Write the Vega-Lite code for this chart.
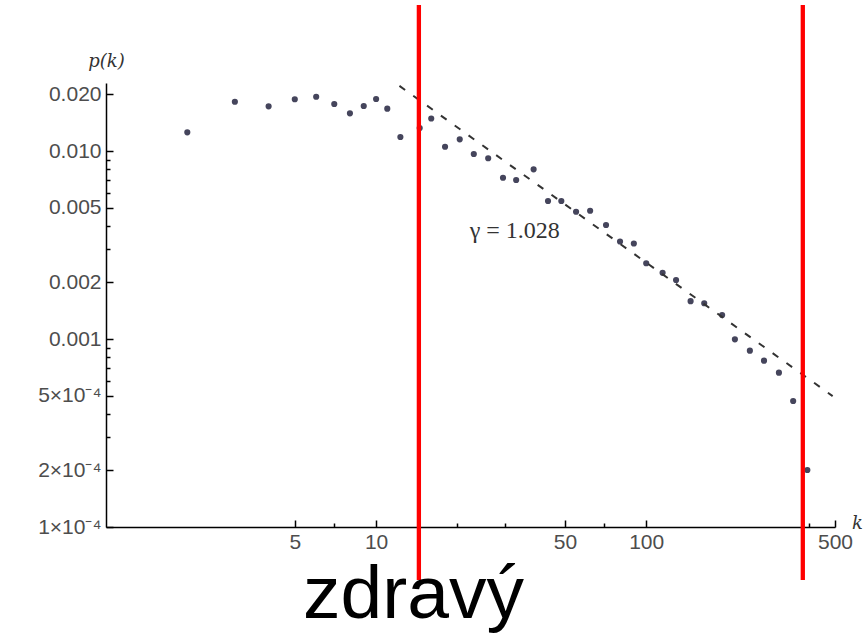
{
  "$schema": "https://vega.github.io/schema/vega-lite/v6.json",
  "width": 729,
  "height": 444,
  "autosize": {"type": "none"},
  "padding": {"left": 106, "top": 83, "right": 30, "bottom": 107},
  "background": "white",
  "config": {"view": {"stroke": null}},
  "title": {
    "text": "zdravý",
    "orient": "bottom",
    "anchor": "middle",
    "font": "Liberation Sans",
    "fontSize": 75,
    "fontWeight": "normal",
    "color": "black",
    "baseline": "alphabetic",
    "dx": -57,
    "offset": 36
  },
  "datasets": {
    "points": [
      {"k": 2, "p": 0.01257}, {"k": 3, "p": 0.01829}, {"k": 4, "p": 0.01729},
      {"k": 5, "p": 0.01884}, {"k": 6, "p": 0.01944}, {"k": 7, "p": 0.01778},
      {"k": 8, "p": 0.01587}, {"k": 9, "p": 0.01735}, {"k": 10, "p": 0.0189},
      {"k": 11, "p": 0.01679}, {"k": 12.3, "p": 0.01187}, {"k": 14.5, "p": 0.01325},
      {"k": 16, "p": 0.01489}, {"k": 18, "p": 0.01054}, {"k": 20.4, "p": 0.01154},
      {"k": 23, "p": 0.00964}, {"k": 26, "p": 0.00915}, {"k": 29.5, "p": 0.00721},
      {"k": 33, "p": 0.00701}, {"k": 38.3, "p": 0.00799}, {"k": 43.3, "p": 0.00542},
      {"k": 48.5, "p": 0.00542}, {"k": 55, "p": 0.00475}, {"k": 62, "p": 0.00481},
      {"k": 71, "p": 0.00404}, {"k": 80, "p": 0.0033}, {"k": 90, "p": 0.00322},
      {"k": 100, "p": 0.00253}, {"k": 115, "p": 0.00225}, {"k": 129, "p": 0.00206},
      {"k": 146, "p": 0.00159}, {"k": 164, "p": 0.00155}, {"k": 191, "p": 0.00134},
      {"k": 213, "p": 0.000996}, {"k": 242, "p": 0.000867}, {"k": 273, "p": 0.000767},
      {"k": 310, "p": 0.000662}, {"k": 350, "p": 0.000468}, {"k": 395, "p": 0.000201}
    ],
    "fit": [{"k": 12.2, "p": 0.0222}, {"k": 490, "p": 0.000497}],
    "cuts": [{"k": 14.4}, {"k": 380}],
    "note": [{"k": 32.6, "p": 0.00375, "label": "γ = 1.028"}]
  },
  "layer": [
    {
      "data": {"name": "points"},
      "mark": {"type": "circle", "size": 38, "color": "#45455c", "opacity": 1},
      "encoding": {
        "x": {
          "field": "k", "type": "quantitative",
          "scale": {"type": "log", "domain": [1, 500], "nice": false},
          "axis": {
            "title": "k",
            "titleFont": "DejaVu Serif", "titleFontStyle": "italic", "titleFontWeight": "normal",
            "titleFontSize": 18, "titleColor": "#333",
            "titleX": 751, "titleY": -4, "titleAlign": "center", "titleBaseline": "middle", "titleAngle": 0,
            "values": [5, 7, 10, 20, 30, 50, 70, 100, 400, 500],
            "labelExpr": "indexof([5,10,50,100,500], datum.value) >= 0 ? datum.value + '' : ''",
            "labelFont": "Liberation Sans", "labelFontSize": 21, "labelColor": "#4d4d4d",
            "labelPadding": 11, "labelOverlap": false, "labelFlush": false,
            "domainColor": "black", "domainWidth": 1.5,
            "tickColor": "black", "tickWidth": 1.5,
            "tickSize": {"condition": {"test": "indexof([5,10,50,100,500], datum.value) >= 0", "value": -7}, "value": -4},
            "grid": false
          }
        },
        "y": {
          "field": "p", "type": "quantitative",
          "scale": {"type": "log", "domain": [0.0001, 0.023], "nice": false},
          "axis": {
            "title": "p(k)",
            "titleFont": "DejaVu Serif", "titleFontStyle": "italic", "titleFontWeight": "normal",
            "titleFontSize": 18, "titleColor": "#333",
            "titleX": 0, "titleY": -22, "titleAlign": "center", "titleBaseline": "middle", "titleAngle": 0,
            "values": [0.0001, 0.0002, 0.0003, 0.0004, 0.0005, 0.0006, 0.0007, 0.0008, 0.0009, 0.001, 0.002, 0.003, 0.004, 0.005, 0.006, 0.007, 0.008, 0.009, 0.01, 0.02],
            "labelExpr": "datum.value == 0.02 ? '0.020' : datum.value == 0.01 ? '0.010' : datum.value == 0.005 ? '0.005' : datum.value == 0.002 ? '0.002' : datum.value == 0.001 ? '0.001' : datum.value == 0.0005 ? '5×10⁻⁴' : datum.value == 0.0002 ? '2×10⁻⁴' : datum.value == 0.0001 ? '1×10⁻⁴' : ''",
            "labelFont": "Liberation Sans", "labelFontSize": 21, "labelColor": "#4d4d4d",
            "labelPadding": 12, "labelOverlap": false, "labelFlush": false,
            "domainColor": "black", "domainWidth": 1.5,
            "tickColor": "black", "tickWidth": 1.5,
            "tickSize": {"condition": {"test": "indexof([0.0005,0.0002,0.0001,0.001,0.002,0.005,0.01,0.02], datum.value) >= 0", "value": -7}, "value": -4},
            "grid": false
          }
        }
      }
    },
    {
      "data": {"name": "fit"},
      "mark": {"type": "line", "color": "#333333", "strokeWidth": 2, "strokeDash": [7, 10]},
      "encoding": {
        "x": {"field": "k", "type": "quantitative"},
        "y": {"field": "p", "type": "quantitative"}
      }
    },
    {
      "data": {"name": "note"},
      "mark": {"type": "text", "font": "Liberation Serif", "fontSize": 24, "color": "#333333", "align": "center", "baseline": "middle"},
      "encoding": {
        "x": {"field": "k", "type": "quantitative"},
        "y": {"field": "p", "type": "quantitative"},
        "text": {"field": "label"}
      }
    },
    {
      "data": {"name": "cuts"},
      "mark": {"type": "rule", "color": "#ff0000", "strokeWidth": 4.3, "clip": false},
      "encoding": {
        "x": {"field": "k", "type": "quantitative"},
        "y": {"datum": 0.0598},
        "y2": {"datum": 0.0000522}
      }
    }
  ]
}
